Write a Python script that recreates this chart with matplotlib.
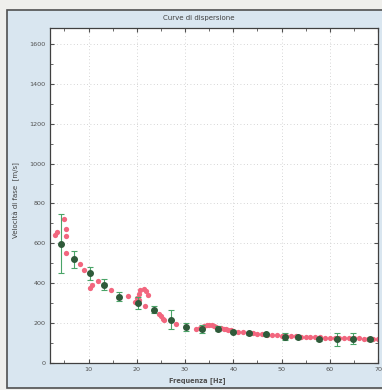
import matplotlib.pyplot as plt
from matplotlib.patches import Rectangle

# -------------------------------
# DATA
# -------------------------------
# measured points with error bars (green)
freq_meas = [4.3, 7.0, 10.3, 13.1, 16.4, 20.3, 23.5, 27.0, 30.1,
             33.6, 36.8, 40.0, 43.3, 46.7, 50.7, 53.5, 57.8, 61.4, 64.8, 68.4]
vel_meas = [598, 520, 452, 393, 332, 302, 268, 218, 182,
            173, 173, 157, 148, 143, 132, 128, 118, 118, 118, 118]
err_hi = [748, 562, 482, 423, 357, 332, 285, 265, 202,
          190, 185, 165, 155, 150, 148, 135, 124, 152, 148, 124]
err_lo = [452, 478, 418, 365, 312, 273, 252, 173, 160,
          152, 162, 150, 142, 137, 115, 122, 112, 85, 95, 112]

# computed dispersion curve (red dots)
freq_curve = [3.1, 3.4, 4.9, 5.4, 5.3, 5.3, 8.2, 9.0, 10.3, 10.7, 11.9,
              14.7, 18.1, 19.7, 20.0, 20.4, 20.7, 21.4, 21.9, 22.3, 20.5,
              21.6, 24.7, 25.0, 25.4, 25.7, 28.2, 32.2,
              33.0, 33.5, 34.0, 34.5, 35.0, 35.5, 36.0, 36.5, 37.0, 37.5,
              38.0, 38.5, 39.0, 39.5, 40.0, 41.0, 42.0, 43.0, 44.0, 45.0,
              46.0, 47.0, 48.0, 49.0, 50.0, 51.0, 52.0, 53.0, 54.0, 55.0,
              56.0, 57.0, 58.0, 59.0, 60.0, 61.0, 62.0, 63.0, 64.0, 65.0,
              66.0, 67.0, 68.0, 69.0, 70.0]
vel_curve = [640, 657, 720, 673, 635, 552, 498, 465, 378, 390, 412,
             368, 335, 307, 328, 348, 365, 373, 362, 343, 318,
             285, 248, 235, 223, 215, 195, 173,
             176, 180, 185, 189, 192, 191, 187, 182, 178, 175,
             172, 169, 166, 163, 160, 157, 154, 151, 148, 146,
             144, 142, 140, 138, 136, 135, 134, 133, 132, 131,
             130, 129, 128, 127, 126, 125, 125, 124, 124, 123,
             123, 122, 122, 121, 121]

# -------------------------------
# FIGURE
# -------------------------------
fig = plt.figure(figsize=(3.82, 3.90), dpi=100)
fig.patch.set_facecolor("#efefec")

# light blue panel with dark frame
fig.patches.append(Rectangle((7 / 382, 2 / 390), 1.0, 378 / 390,
                             transform=fig.transFigure, facecolor="#d9e6f0",
                             edgecolor="#505050", linewidth=1.2, zorder=-5))

ax = fig.add_axes([50 / 382, 27 / 390, 328 / 382, 335 / 390])
ax.set_zorder(2)
ax.set_facecolor("white")

ax.plot(freq_curve, vel_curve, linestyle="none", marker="o", markersize=3.8,
        color="#f2667e", markeredgewidth=0, zorder=2)

yerr = [[v - lo for v, lo in zip(vel_meas, err_lo)],
        [hi - v for v, hi in zip(vel_meas, err_hi)]]
ax.errorbar(freq_meas, vel_meas, yerr=yerr, fmt="o", markersize=4.0,
            color="#2f5a3a", ecolor="#4aa468", elinewidth=0.8,
            capsize=2.2, capthick=0.8, zorder=3)

ax.set_xlim(2, 70)
ax.set_ylim(0, 1680)
ax.set_xticks([10, 20, 30, 40, 50, 60, 70])
ax.set_xticks(range(5, 70, 5), minor=True)
ax.set_yticks(range(0, 1601, 200))
ax.set_yticks(range(100, 1700, 100), minor=True)

ax.grid(True, which="major", linestyle=(0, (1, 3)), color="#c8c8c8",
        linewidth=0.6)
ax.tick_params(which="both", direction="in", top=True, right=True,
               labelsize=4.6, colors="#505050", pad=3)
ax.tick_params(which="major", length=3)
ax.tick_params(which="minor", length=2)
for s in ax.spines.values():
    s.set_color("#404040")
    s.set_linewidth(0.9)

fig.text(199 / 382, 372 / 390, "Curve di dispersione", ha="center",
         va="center", fontsize=5, color="#404040")
fig.text(197 / 382, 9 / 390, "Frequenza [Hz]", ha="center", va="center",
         fontsize=4.8, fontweight="bold", color="#505050")
fig.text(16 / 382, 190 / 390, "Velocità di fase  [m/s]", ha="center",
         va="center", rotation=90, fontsize=5, color="#404040")

fig.savefig("out.png", dpi=100, facecolor=fig.get_facecolor())
